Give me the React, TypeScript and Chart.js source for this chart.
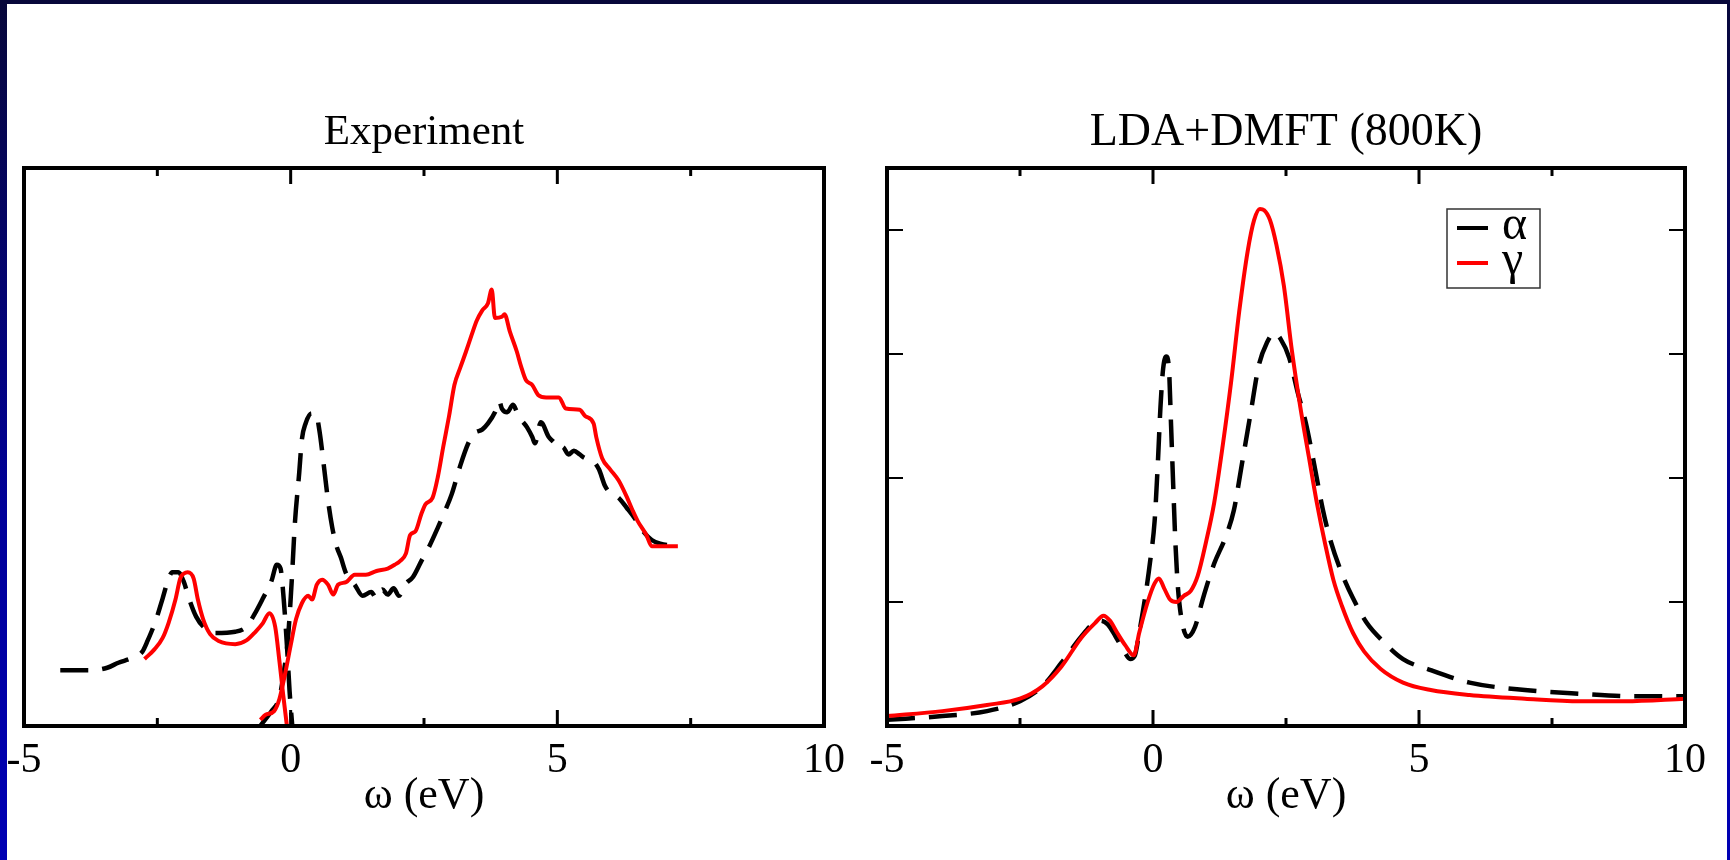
import React, { useEffect, useRef } from 'react';
import { Chart, registerables } from 'chart.js';

Chart.register(...registerables);

const SERIF = "'Liberation Serif', 'Times New Roman', Times, serif";

// ---- axes / labels ----
const X_MIN = -5;
const X_MAX = 10;
const Y_MIN = 0;
const Y_MAX = 4.5;
const X_MAJOR = [-5, 0, 5, 10];
const X_MINOR = [-2.5, 2.5, 7.5];
const X_TICK_LABELS = ['-5', '0', '5', '10'];
const Y_TICKS_THEORY = [1, 2, 3, 4];
const PANEL_TITLES = ['Experiment', 'LDA+DMFT (800K)'];
const X_TITLE = 'ω (eV)';
const SERIES_NAMES = ['α', 'γ'];

// ---- Experiment: photoemission (occupied) ----
const expAlphaPesX = [-4.32, -3.75, -3.44, -3.23, -2.97, -2.78, -2.68, -2.53, -2.40, -2.31, -2.22, -2.11, -2.01, -1.90, -1.77, -1.61, -1.41, -1.04, -0.83, -0.68, -0.52, -0.36, -0.26, -0.19, -0.13, -0.07, -0.02, 0.03];
const expAlphaPesY = [0.45, 0.45, 0.47, 0.51, 0.55, 0.60, 0.69, 0.85, 1.03, 1.16, 1.24, 1.24, 1.17, 1.02, 0.88, 0.79, 0.75, 0.76, 0.80, 0.90, 1.03, 1.17, 1.30, 1.27, 1.02, 0.65, 0.28, 0];
const expGammaPesX = [-2.74, -2.55, -2.40, -2.29, -2.16, -2.07, -2.00, -1.93, -1.82, -1.74, -1.64, -1.51, -1.35, -1.04, -0.83, -0.66, -0.52, -0.40, -0.29, -0.21, -0.14, -0.07];
const expGammaPesY = [0.54, 0.62, 0.71, 0.83, 1.02, 1.19, 1.23, 1.24, 1.19, 1.02, 0.86, 0.74, 0.685, 0.66, 0.69, 0.76, 0.83, 0.91, 0.80, 0.52, 0.25, 0];

// ---- Experiment: inverse photoemission (unoccupied) ----
const expAlphaBisX = [-0.57, -0.36, -0.21, -0.14, -0.05, 0.02, 0.08, 0.16, 0.21, 0.28, 0.39, 0.47, 0.54, 0.63, 0.70, 0.78, 0.86, 0.94, 1.04, 1.20, 1.35, 1.51, 1.61, 1.72, 1.82, 1.93, 2.03, 2.14, 2.29, 2.45, 2.60, 2.76, 2.86, 3.02, 3.18, 3.33, 3.44, 3.59, 3.70, 3.83, 3.91, 3.96, 4.06, 4.17, 4.27, 4.43, 4.53, 4.58, 4.69, 4.84, 4.95, 5.00, 5.10, 5.21, 5.31, 5.42, 5.52, 5.63, 5.78, 5.89, 5.99, 6.15, 6.30, 6.46, 6.61, 6.77, 6.93, 7.24];
const expAlphaBisY = [0, 0.12, 0.23, 0.40, 0.71, 1.17, 1.64, 2.04, 2.31, 2.44, 2.52, 2.52, 2.38, 2.07, 1.82, 1.60, 1.45, 1.36, 1.23, 1.14, 1.05, 1.08, 1.03, 1.10, 1.06, 1.11, 1.05, 1.14, 1.20, 1.33, 1.45, 1.60, 1.70, 1.87, 2.10, 2.28, 2.36, 2.39, 2.44, 2.53, 2.62, 2.56, 2.53, 2.59, 2.50, 2.41, 2.33, 2.28, 2.45, 2.33, 2.28, 2.24, 2.25, 2.19, 2.22, 2.19, 2.16, 2.15, 2.07, 1.94, 1.88, 1.84, 1.76, 1.67, 1.57, 1.50, 1.47, 1.45];
const expGammaBisX = [-0.57, -0.47, -0.31, -0.21, -0.10, 0.00, 0.10, 0.21, 0.33, 0.40, 0.49, 0.59, 0.70, 0.80, 0.89, 1.04, 1.20, 1.41, 1.61, 1.82, 1.95, 2.05, 2.16, 2.24, 2.34, 2.45, 2.53, 2.66, 2.76, 2.86, 2.97, 3.07, 3.18, 3.28, 3.39, 3.49, 3.59, 3.70, 3.77, 3.83, 3.96, 4.01, 4.11, 4.24, 4.32, 4.41, 4.53, 4.64, 4.79, 5.03, 5.16, 5.42, 5.52, 5.68, 5.73, 5.84, 5.99, 6.15, 6.30, 6.41, 6.51, 6.67, 6.77, 7.26];
const expGammaBisY = [0.05, 0.09, 0.12, 0.22, 0.43, 0.65, 0.86, 0.99, 1.05, 1.02, 1.14, 1.18, 1.14, 1.06, 1.14, 1.16, 1.22, 1.22, 1.25, 1.27, 1.30, 1.33, 1.39, 1.54, 1.57, 1.71, 1.79, 1.84, 2.01, 2.25, 2.50, 2.75, 2.89, 3.01, 3.15, 3.27, 3.35, 3.41, 3.52, 3.29, 3.30, 3.32, 3.18, 3.02, 2.90, 2.79, 2.75, 2.67, 2.65, 2.65, 2.56, 2.55, 2.50, 2.44, 2.33, 2.16, 2.07, 1.98, 1.85, 1.74, 1.65, 1.54, 1.45, 1.45];

// ---- LDA+DMFT (800K) ----
const thAlphaX = [-5, -3.96, -3.12, -2.50, -2.08, -1.72, -1.35, -1.14, -0.99, -0.85, -0.70, -0.54, -0.43, -0.34, -0.26, -0.15, -0.05, 0.03, 0.09, 0.14, 0.19, 0.25, 0.30, 0.34, 0.38, 0.42, 0.47, 0.55, 0.65, 0.79, 0.94, 1.15, 1.36, 1.52, 1.67, 1.83, 1.99, 2.14, 2.28, 2.40, 2.56, 2.72, 2.87, 3.03, 3.19, 3.34, 3.55, 3.76, 4.02, 4.33, 4.70, 5.22, 5.95, 6.99, 8.03, 9.08, 10];
const thAlphaY = [0.05, 0.08, 0.12, 0.20, 0.32, 0.51, 0.72, 0.82, 0.85, 0.82, 0.72, 0.60, 0.54, 0.57, 0.75, 1.03, 1.34, 1.65, 2.11, 2.57, 2.88, 2.98, 2.88, 2.42, 1.94, 1.49, 1.11, 0.83, 0.72, 0.80, 1.03, 1.31, 1.52, 1.74, 2.11, 2.51, 2.91, 3.09, 3.17, 3.12, 2.97, 2.69, 2.45, 2.11, 1.75, 1.49, 1.23, 1.03, 0.83, 0.68, 0.54, 0.45, 0.35, 0.29, 0.26, 0.24, 0.24];
const thGammaX = [-5, -3.96, -3.12, -2.50, -2.08, -1.72, -1.35, -1.09, -0.93, -0.81, -0.67, -0.52, -0.36, -0.26, -0.10, 0.03, 0.11, 0.21, 0.32, 0.44, 0.58, 0.71, 0.84, 1.00, 1.15, 1.31, 1.47, 1.62, 1.78, 1.90, 2.01, 2.09, 2.20, 2.32, 2.46, 2.61, 2.77, 2.93, 3.08, 3.24, 3.39, 3.55, 3.76, 3.97, 4.28, 4.70, 5.22, 5.95, 6.99, 8.03, 8.87, 10];
const thGammaY = [0.08, 0.12, 0.17, 0.22, 0.32, 0.48, 0.71, 0.83, 0.89, 0.85, 0.75, 0.65, 0.57, 0.75, 1.00, 1.15, 1.19, 1.11, 1.02, 1.00, 1.05, 1.09, 1.21, 1.49, 1.80, 2.26, 2.78, 3.34, 3.83, 4.08, 4.17, 4.16, 4.08, 3.88, 3.55, 3.03, 2.57, 2.17, 1.80, 1.46, 1.18, 0.97, 0.75, 0.60, 0.46, 0.35, 0.29, 0.25, 0.22, 0.20, 0.20, 0.22];

const pts = (xs: number[], ys: number[]) => xs.map((x, i) => ({ x, y: ys[i] }));

const alphaStyle = {
  borderColor: '#000000',
  borderWidth: 4.5,
  borderDash: [28, 14],
  pointRadius: 0,
  fill: false,
  cubicInterpolationMode: 'monotone',
  order: 2,
};
const gammaStyle = {
  borderColor: '#ff0000',
  borderWidth: 4,
  pointRadius: 0,
  fill: false,
  cubicInterpolationMode: 'monotone',
  order: 1,
};

const framePlugin = {
  id: 'frame',
  afterDatasetsDraw(chart: any, _args: any, opts: any) {
    const { ctx, chartArea } = chart;
    const { left, right, top, bottom } = chartArea;
    const xs = chart.scales.x;
    const ys = chart.scales.y;
    const line = (x1: number, y1: number, x2: number, y2: number) => {
      ctx.beginPath();
      ctx.moveTo(x1, y1);
      ctx.lineTo(x2, y2);
      ctx.stroke();
    };
    ctx.save();
    ctx.setLineDash([]);
    ctx.strokeStyle = '#000';
    ctx.lineCap = 'butt';
    ctx.lineWidth = 3;
    const xTick = (v: number, len: number) => {
      const px = xs.getPixelForValue(v);
      line(px, bottom, px, bottom - len);
      line(px, top, px, top + len);
    };
    X_MAJOR.forEach((v) => xTick(v, 16));
    X_MINOR.forEach((v) => xTick(v, 8));
    if (opts && opts.yTicks) {
      ctx.lineWidth = 2;
      opts.yTicks.forEach((v: number) => {
        const py = ys.getPixelForValue(v);
        line(left, py, left + 16, py);
        line(right, py, right - 16, py);
      });
    }
    ctx.lineWidth = 4;
    ctx.strokeRect(left, top, right - left, bottom - top);

    if (opts && opts.legend) {
      const bx = right - 238;
      const by = top + 41;
      ctx.lineWidth = 1.5;
      ctx.strokeStyle = '#333';
      ctx.strokeRect(bx, by, 93, 79);
      SERIES_NAMES.forEach((name, i) => {
        const ds = chart.data.datasets.find((d: any) => d.label === name);
        if (!ds) return;
        const ly = by + 19 + i * 35;
        ctx.strokeStyle = ds.borderColor;
        ctx.lineWidth = 4;
        line(bx + 10, ly, bx + 41, ly);
        ctx.fillStyle = '#000';
        ctx.font = `48px ${SERIF}`;
        ctx.textBaseline = 'alphabetic';
        ctx.textAlign = 'left';
        ctx.fillText(name, bx + 55, ly + 11);
      });
    }
    ctx.restore();
  },
};

type PanelProps = {
  left: number;
  width: number;
  padL: number;
  padR: number;
  title: string;
  titleSize: number;
  datasets: any[];
  yTicks?: number[];
  legend?: boolean;
};

function Panel({ left, width, padL, padR, title, titleSize, datasets, yTicks, legend }: PanelProps) {
  const ref = useRef<HTMLCanvasElement | null>(null);
  useEffect(() => {
    if (!ref.current) return;
    const lh = titleSize * 1.2;
    const titleCenter = 133;
    const chart = new Chart(ref.current, {
      type: 'line',
      data: { datasets },
      options: {
        animation: false,
        responsive: false,
        maintainAspectRatio: false,
        layout: { padding: { left: padL, right: padR, top: 0, bottom: 0 } },
        plugins: {
          legend: { display: false },
          tooltip: { enabled: false },
          title: {
            display: true,
            text: title,
            color: '#000',
            font: { family: SERIF, size: titleSize, weight: 'normal', lineHeight: 1.2 },
            padding: { top: titleCenter - lh / 2, bottom: 168 - (titleCenter - lh / 2) - lh },
          },
          frame: { yTicks, legend },
        } as any,
        scales: {
          x: {
            type: 'linear',
            min: X_MIN,
            max: X_MAX,
            grid: { display: false, drawTicks: false },
            border: { display: false },
            afterBuildTicks: (s: any) => {
              s.ticks = X_MAJOR.map((v) => ({ value: v }));
            },
            afterFit: (s: any) => {
              s.height = 134;
              s.paddingLeft = 0;
              s.paddingRight = 0;
            },
            ticks: {
              autoSkip: false,
              maxRotation: 0,
              color: '#000',
              padding: 10,
              font: { family: SERIF, size: 42, lineHeight: 1.2 },
              callback: (v: any) => X_TICK_LABELS[X_MAJOR.indexOf(Number(v))] ?? '',
            },
            title: {
              display: true,
              text: X_TITLE,
              color: '#000',
              font: { family: SERIF, size: 44, lineHeight: 1.2 },
              padding: { top: 0, bottom: 37 },
            },
          },
          y: {
            type: 'linear',
            min: Y_MIN,
            max: Y_MAX,
            display: false,
          },
        },
      } as any,
      plugins: [framePlugin],
    });
    return () => chart.destroy();
  }, []);
  return (
    <canvas
      ref={ref}
      width={width}
      height={860}
      style={{ position: 'absolute', left, top: 0, width, height: 860 }}
    />
  );
}

export default function App() {
  const expSets = [
    { label: 'α', data: pts(expAlphaPesX, expAlphaPesY), ...alphaStyle },
    { label: 'α BIS', data: pts(expAlphaBisX, expAlphaBisY), ...alphaStyle },
    { label: 'γ', data: pts(expGammaPesX, expGammaPesY), ...gammaStyle },
    { label: 'γ BIS', data: pts(expGammaBisX, expGammaBisY), ...gammaStyle },
  ];
  const thSets = [
    { label: 'α', data: pts(thAlphaX, thAlphaY), ...alphaStyle },
    { label: 'γ', data: pts(thGammaX, thGammaY), ...gammaStyle },
  ];
  return (
    <div
      style={{
        position: 'absolute',
        left: 0,
        top: 0,
        width: 1730,
        height: 860,
        overflow: 'hidden',
        background: 'linear-gradient(180deg, #07073a 0%, #00009a 60%, #0000b4 100%)',
      }}
    >
      <div style={{ position: 'absolute', left: 7, top: 4, right: 3, bottom: 0, background: '#ffffff' }} />
      <Panel left={0} width={865} padL={24} padR={41} title={PANEL_TITLES[0]} titleSize={43} datasets={expSets} />
      <Panel
        left={865}
        width={865}
        padL={22}
        padR={45}
        title={PANEL_TITLES[1]}
        titleSize={46}
        datasets={thSets}
        yTicks={Y_TICKS_THEORY}
        legend
      />
    </div>
  );
}
